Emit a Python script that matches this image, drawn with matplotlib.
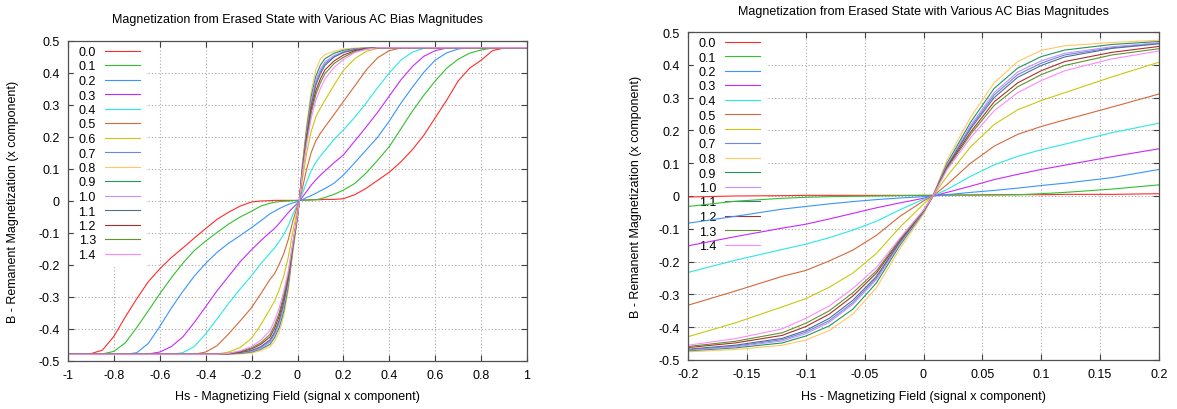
import numpy as np
import matplotlib
matplotlib.use('Agg')
import matplotlib.pyplot as plt
from matplotlib.ticker import FormatStrFormatter

# Magnetizing field sample points (signal x component)
field = [-1.0, -0.95, -0.9, -0.85, -0.8,
         -0.75, -0.7, -0.65, -0.6, -0.55,
         -0.5, -0.45, -0.4, -0.35, -0.3,
         -0.25, -0.2, -0.16, -0.12, -0.1,
         -0.08, -0.06, -0.04, -0.02, 0.0,
         0.008, 0.02, 0.04, 0.06, 0.08,
         0.1, 0.12, 0.16, 0.2, 0.25,
         0.3, 0.35, 0.4, 0.45, 0.5,
         0.55, 0.6, 0.65, 0.7, 0.75,
         0.8, 0.85, 0.9, 0.95, 1.0]

bias_labels = ['0.0', '0.1', '0.2', '0.3', '0.4', '0.5', '0.6', '0.7',
               '0.8', '0.9', '1.0', '1.1', '1.2', '1.3', '1.4']

# Remanent magnetization for each AC bias magnitude
m_00 = [-0.479, -0.479, -0.477, -0.466, -0.423,
        -0.362, -0.305, -0.252, -0.212, -0.177,
        -0.147, -0.116, -0.086, -0.057, -0.035,
        -0.016, -0.003, 0.0, 0.001, 0.002,
        0.002, 0.002, 0.002, 0.002, 0.002,
        0.002, 0.003, 0.003, 0.004, 0.004,
        0.004, 0.005, 0.005, 0.007, 0.02,
        0.04, 0.065, 0.09, 0.122, 0.16,
        0.205, 0.26, 0.315, 0.375, 0.415,
        0.44, 0.47, 0.478, 0.479, 0.479]
m_01 = [-0.479, -0.479, -0.479, -0.478, -0.47,
        -0.443, -0.395, -0.343, -0.29, -0.24,
        -0.195, -0.155, -0.125, -0.098, -0.072,
        -0.05, -0.032, -0.016, -0.007, -0.004,
        -0.002, -0.001, 0.0, 0.001, 0.002,
        0.002, 0.003, 0.003, 0.003, 0.004,
        0.007, 0.011, 0.021, 0.034, 0.055,
        0.088, 0.128, 0.17, 0.225, 0.28,
        0.33, 0.375, 0.415, 0.443, 0.462,
        0.472, 0.478, 0.479, 0.479, 0.479]
m_02 = [-0.479, -0.479, -0.479, -0.479, -0.479,
        -0.479, -0.474, -0.445, -0.392, -0.335,
        -0.283, -0.235, -0.195, -0.16, -0.132,
        -0.108, -0.083, -0.062, -0.04, -0.032,
        -0.024, -0.017, -0.011, -0.006, -0.002,
        0.0, 0.004, 0.011, 0.017, 0.024,
        0.032, 0.039, 0.056, 0.081, 0.12,
        0.16, 0.2, 0.25, 0.305, 0.355,
        0.402, 0.44, 0.463, 0.475, 0.479,
        0.479, 0.479, 0.479, 0.479, 0.479]
m_03 = [-0.479, -0.479, -0.479, -0.479, -0.479,
        -0.479, -0.479, -0.478, -0.472, -0.455,
        -0.425, -0.38, -0.33, -0.28, -0.235,
        -0.19, -0.152, -0.124, -0.098, -0.086,
        -0.07, -0.053, -0.036, -0.021, -0.007,
        0.0, 0.011, 0.03, 0.05, 0.066,
        0.081, 0.094, 0.12, 0.144, 0.188,
        0.232, 0.278, 0.328, 0.378, 0.42,
        0.452, 0.47, 0.478, 0.479, 0.479,
        0.479, 0.479, 0.479, 0.479, 0.479]
m_04 = [-0.479, -0.479, -0.479, -0.479, -0.479,
        -0.479, -0.479, -0.479, -0.479, -0.479,
        -0.474, -0.455, -0.415, -0.368, -0.32,
        -0.275, -0.233, -0.196, -0.163, -0.147,
        -0.127, -0.104, -0.077, -0.042, -0.01,
        0.0, 0.02, 0.06, 0.095, 0.121,
        0.141, 0.158, 0.193, 0.222, 0.262,
        0.307, 0.355, 0.4, 0.44, 0.465,
        0.477, 0.479, 0.479, 0.479, 0.479,
        0.479, 0.479, 0.479, 0.479, 0.479]
m_05 = [-0.479, -0.479, -0.479, -0.479, -0.479,
        -0.479, -0.479, -0.479, -0.479, -0.479,
        -0.479, -0.479, -0.472, -0.452, -0.415,
        -0.375, -0.333, -0.29, -0.245, -0.227,
        -0.198, -0.165, -0.12, -0.062, -0.015,
        0.0, 0.035, 0.1, 0.152, 0.188,
        0.212, 0.232, 0.271, 0.311, 0.36,
        0.41, 0.448, 0.47, 0.478, 0.479,
        0.479, 0.479, 0.479, 0.479, 0.479,
        0.479, 0.479, 0.479, 0.479, 0.479]
m_06 = [-0.479, -0.479, -0.479, -0.479, -0.479,
        -0.479, -0.479, -0.479, -0.479, -0.479,
        -0.479, -0.479, -0.479, -0.478, -0.472,
        -0.458, -0.429, -0.387, -0.338, -0.313,
        -0.278, -0.235, -0.175, -0.095, -0.025,
        0.0, 0.06, 0.15, 0.218, 0.263,
        0.291, 0.315, 0.363, 0.408, 0.445,
        0.468, 0.477, 0.479, 0.479, 0.479,
        0.479, 0.479, 0.479, 0.479, 0.479,
        0.479, 0.479, 0.479, 0.479, 0.479]
# steep curves: saturated outside about |Hs| > 0.3
m_07 = [-0.479] * 14 + [-0.478, -0.475,
        -0.469, -0.458, -0.438, -0.415,
        -0.38, -0.325, -0.25, -0.142, -0.047,
        0.0, 0.093, 0.21, 0.308, 0.37,
        0.405, 0.43, 0.452, 0.466,
        0.474, 0.478] + [0.479] * 14
m_08 = [-0.479] * 14 + [-0.479, -0.478,
        -0.475, -0.468, -0.455, -0.439,
        -0.41, -0.36, -0.28, -0.16, -0.055,
        0.0, 0.11, 0.24, 0.345, 0.41,
        0.444, 0.458, 0.468, 0.475,
        0.478, 0.479] + [0.479] * 14
m_09 = [-0.479] * 14 + [-0.478, -0.476,
        -0.472, -0.463, -0.448, -0.427,
        -0.396, -0.345, -0.265, -0.15, -0.05,
        0.0, 0.1, 0.225, 0.328, 0.39,
        0.425, 0.445, 0.462, 0.471,
        0.476, 0.478] + [0.479] * 14
m_10 = [-0.479] * 14 + [-0.478, -0.475,
        -0.47, -0.46, -0.442, -0.42,
        -0.385, -0.33, -0.255, -0.145, -0.048,
        0.0, 0.095, 0.215, 0.315, 0.378,
        0.412, 0.435, 0.455, 0.467,
        0.475, 0.478] + [0.479] * 14
m_11 = [-0.479] * 14 + [-0.477, -0.474,
        -0.467, -0.455, -0.434, -0.41,
        -0.373, -0.318, -0.245, -0.14, -0.046,
        0.0, 0.09, 0.205, 0.3, 0.362,
        0.398, 0.424, 0.45, 0.464,
        0.473, 0.477] + [0.479] * 14
m_12 = [-0.479] * 14 + [-0.477, -0.472,
        -0.462, -0.448, -0.425, -0.398,
        -0.36, -0.305, -0.235, -0.135, -0.045,
        0.0, 0.087, 0.195, 0.287, 0.345,
        0.382, 0.41, 0.438, 0.456,
        0.47, 0.476] + [0.479] * 14
m_13 = [-0.479] * 14 + [-0.476, -0.47,
        -0.459, -0.443, -0.417, -0.388,
        -0.35, -0.295, -0.228, -0.132, -0.044,
        0.0, 0.084, 0.188, 0.276, 0.333,
        0.37, 0.398, 0.43, 0.449,
        0.467, 0.475] + [0.479] * 14
m_14 = [-0.479] * 14 + [-0.476, -0.468,
        -0.455, -0.435, -0.405, -0.373,
        -0.335, -0.282, -0.218, -0.128, -0.043,
        0.0, 0.08, 0.178, 0.26, 0.315,
        0.352, 0.382, 0.418, 0.442,
        0.464, 0.474] + [0.479] * 14

curves = [m_00, m_01, m_02, m_03, m_04, m_05, m_06, m_07,
          m_08, m_09, m_10, m_11, m_12, m_13, m_14]

colors = ['#ff2a2a', '#30c030', '#3a94ff', '#c828ff', '#28e8e8',
          '#d4683a', '#c8c810', '#6a88e0', '#ffc860', '#22955a',
          '#c490ff', '#50708c', '#a83030', '#62922a', '#ff88ff']

title = 'Magnetization from Erased State with Various AC Bias Magnitudes'
xlab = 'Hs - Magnetizing Field (signal x component)'
ylab = 'B - Remanent Magnetization (x component)'

plt.rcParams['font.family'] = ['Liberation Sans', 'DejaVu Sans']
plt.rcParams['font.size'] = 9

W, H = 1177, 410
fig = plt.figure(figsize=(W / 100, H / 100), dpi=100)


def draw_panel(box, xlim, nx, legend_x):
    left, top, right, bottom = box
    ax = fig.add_axes([left / W, 1 - bottom / H, (right - left) / W, (bottom - top) / H])
    for y, c, lab in zip(curves, colors, bias_labels):
        ax.plot(field, y, color=c, lw=0.8, label=lab, zorder=2)

    ax.set_xlim(*xlim)
    ax.set_ylim(-0.5, 0.5)
    ax.set_xticks(np.round(np.linspace(xlim[0], xlim[1], nx), 3) + 0.0)
    ax.set_yticks(np.round(np.linspace(-0.5, 0.5, 11), 2) + 0.0)
    ax.xaxis.set_major_formatter(FormatStrFormatter('%g'))
    ax.yaxis.set_major_formatter(FormatStrFormatter('%g'))
    ax.tick_params(direction='in', top=True, right=True, length=4, width=0.8,
                   color='#404040', labelcolor='black', labelsize=9, pad=6)
    ax.grid(True, linestyle=(0, (1, 2)), color='#a8a8a8', linewidth=0.8)
    ax.set_axisbelow(True)
    for s in ax.spines.values():
        s.set_color('#505050')
        s.set_linewidth(0.9)

    # gnuplot style key: label then sample, blanks the grid but not the curves
    leg = ax.legend(loc='upper left', bbox_to_anchor=(legend_x, 1.0),
                    borderaxespad=0, borderpad=0.4, frameon=True, fancybox=False,
                    framealpha=1, edgecolor='white', facecolor='white',
                    markerfirst=False, handlelength=2.8, handletextpad=0.75,
                    labelspacing=0.2, fontsize=9)
    leg.set_zorder(1.5)

    cx = (left + right) / 2 / W
    fig.text(cx, 1 - 397 / H, xlab, ha='center', va='center', fontsize=9)
    return ax


ax1 = draw_panel((68, 42, 527, 362), (-1, 1), 11, 0.012)
ax2 = draw_panel((688, 33, 1159, 361), (-0.2, 0.2), 9, 0.012)

fig.text(297.5 / W, 1 - 20 / H, title, ha='center', va='center', fontsize=9)
fig.text(923.5 / W, 1 - 12 / H, title, ha='center', va='center', fontsize=9)
fig.text(13 / W, 1 - 202 / H, ylab, rotation=90, ha='center', va='center', fontsize=9)
fig.text(636 / W, 1 - 197 / H, ylab, rotation=90, ha='center', va='center', fontsize=9)

fig.savefig('out.png', dpi=100, facecolor='white')
